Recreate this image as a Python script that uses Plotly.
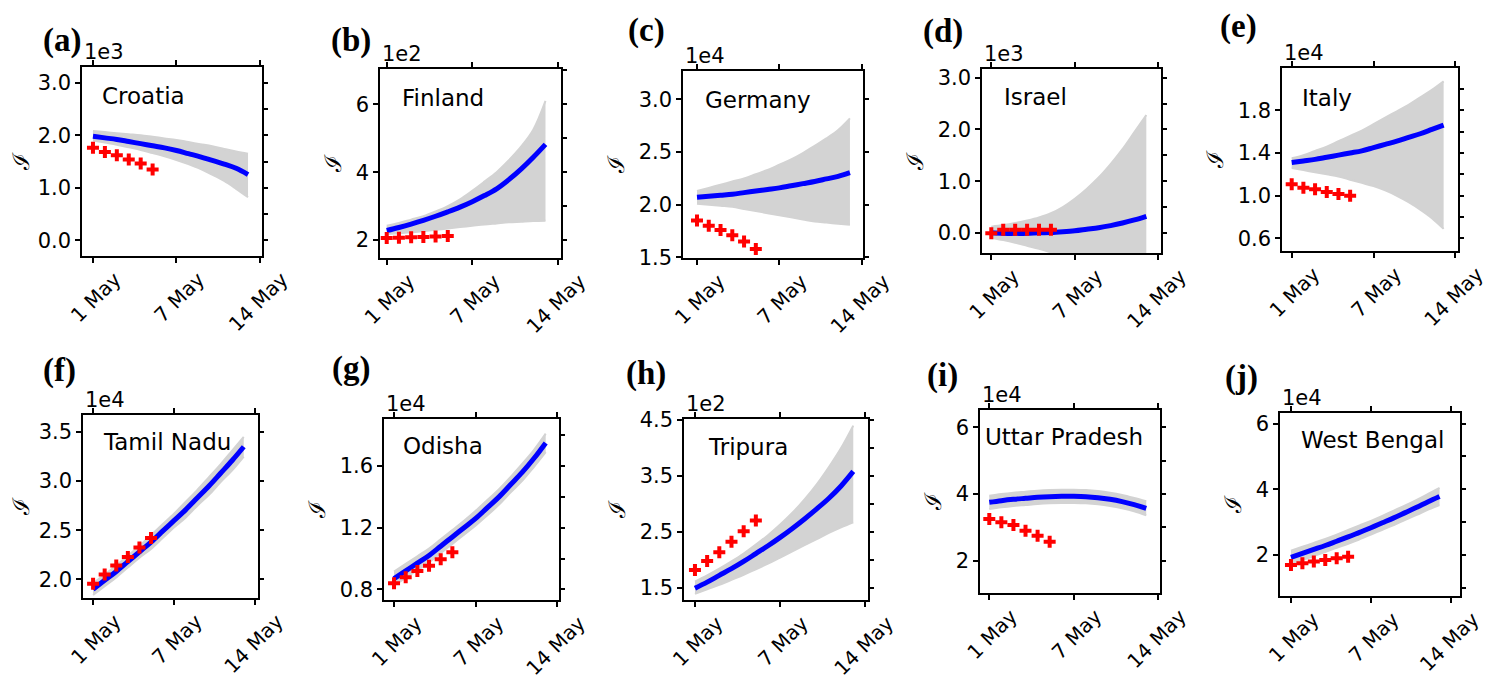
import plotly.graph_objects as go

# page body has an 8 px margin; the figure is sized to fit inside it
OFF = 8
W, H = 1505 - 2 * OFF, 690 - 2 * OFF

# ---------------- data (display units; multiply by 10**exponent) ----------------
days_fit = list(range(14))          # 1 May .. 14 May model forecast
days_obs = list(range(6))           # observed days
tick_days = [0, 7, 14]
tick_text = ["1 May", "7 May", "14 May"]

names = ["Croatia", "Finland", "Germany", "Israel", "Italy",
         "Tamil Nadu", "Odisha", "Tripura", "Uttar Pradesh", "West Bengal"]
letters = ["(a)", "(b)", "(c)", "(d)", "(e)", "(f)", "(g)", "(h)", "(i)", "(j)"]
exponents = [3, 2, 4, 3, 4, 4, 4, 2, 4, 4]

fit_croatia = [1.98, 1.95, 1.92, 1.88, 1.84, 1.80, 1.76, 1.71, 1.65, 1.59, 1.52, 1.45, 1.37, 1.25]
up_croatia = [2.08, 2.06, 2.04, 2.02, 2.00, 1.97, 1.94, 1.91, 1.87, 1.83, 1.79, 1.74, 1.69, 1.65]
lo_croatia = [1.90, 1.86, 1.82, 1.77, 1.72, 1.66, 1.60, 1.53, 1.45, 1.36, 1.25, 1.13, 0.98, 0.82]
obs_croatia = [1.76, 1.68, 1.62, 1.54, 1.46, 1.35]

fit_finland = [2.28, 2.37, 2.47, 2.58, 2.70, 2.83, 2.97, 3.13, 3.31, 3.51, 3.78, 4.09, 4.44, 4.82]
up_finland = [2.42, 2.50, 2.60, 2.70, 2.84, 3.00, 3.20, 3.45, 3.72, 4.00, 4.35, 4.75, 5.25, 6.10]
lo_finland = [2.18, 2.20, 2.23, 2.26, 2.30, 2.34, 2.38, 2.42, 2.46, 2.49, 2.52, 2.54, 2.56, 2.57]
obs_finland = [2.06, 2.07, 2.08, 2.09, 2.10, 2.12]

fit_germany = [2.07, 2.08, 2.09, 2.10, 2.115, 2.13, 2.145, 2.16, 2.18, 2.20, 2.22, 2.245, 2.27, 2.305]
up_germany = [2.13, 2.16, 2.19, 2.22, 2.25, 2.29, 2.33, 2.38, 2.43, 2.49, 2.56, 2.63, 2.71, 2.82]
lo_germany = [2.01, 2.00, 1.99, 1.98, 1.96, 1.94, 1.92, 1.90, 1.88, 1.86, 1.84, 1.83, 1.82, 1.81]
obs_germany = [1.85, 1.80, 1.76, 1.71, 1.65, 1.58]

fit_israel = [0.0, -0.01, -0.01, -0.01, 0.0, 0.005, 0.02, 0.04, 0.07, 0.10, 0.14, 0.19, 0.25, 0.32]
up_israel = [0.12, 0.15, 0.19, 0.24, 0.30, 0.38, 0.50, 0.66, 0.85, 1.07, 1.33, 1.62, 1.95, 2.28]
lo_israel = [-0.10, -0.14, -0.19, -0.25, -0.31, -0.38, -0.46, -0.55, -0.65, -0.76, -0.88, -1.0, -1.1, -1.2]
obs_israel = [-0.01, 0.06, 0.06, 0.06, 0.06, 0.06]

fit_italy = [1.31, 1.325, 1.34, 1.36, 1.38, 1.40, 1.42, 1.45, 1.48, 1.51, 1.545, 1.58, 1.62, 1.66]
up_italy = [1.35, 1.38, 1.42, 1.46, 1.51, 1.56, 1.61, 1.67, 1.73, 1.79, 1.85, 1.92, 1.99, 2.07]
lo_italy = [1.26, 1.24, 1.22, 1.20, 1.18, 1.15, 1.12, 1.09, 1.05, 1.00, 0.94, 0.87, 0.79, 0.69]
obs_italy = [1.107, 1.075, 1.06, 1.035, 1.016, 1.00]

fit_tamil = [1.90, 1.99, 2.08, 2.18, 2.28, 2.38, 2.49, 2.60, 2.71, 2.83, 2.95, 3.08, 3.21, 3.35]
up_tamil = [1.96, 2.05, 2.14, 2.24, 2.34, 2.45, 2.56, 2.67, 2.79, 2.91, 3.04, 3.17, 3.31, 3.45]
lo_tamil = [1.84, 1.93, 2.02, 2.12, 2.22, 2.31, 2.42, 2.53, 2.63, 2.75, 2.86, 2.99, 3.11, 3.25]
obs_tamil = [1.956, 2.048, 2.14, 2.228, 2.323, 2.421]

fit_odisha = [0.87, 0.92, 0.97, 1.02, 1.08, 1.14, 1.20, 1.26, 1.33, 1.40, 1.48, 1.56, 1.65, 1.75]
up_odisha = [0.915, 0.965, 1.015, 1.065, 1.125, 1.185, 1.245, 1.31, 1.38, 1.45, 1.53, 1.615, 1.705, 1.81]
lo_odisha = [0.825, 0.875, 0.925, 0.975, 1.035, 1.095, 1.155, 1.215, 1.28, 1.35, 1.43, 1.505, 1.595, 1.69]
obs_odisha = [0.839, 0.878, 0.919, 0.953, 0.996, 1.04]

fit_tripura = [1.49, 1.60, 1.72, 1.84, 1.97, 2.11, 2.25, 2.40, 2.56, 2.73, 2.91, 3.10, 3.32, 3.58]
up_tripura = [1.61, 1.72, 1.84, 1.97, 2.11, 2.27, 2.44, 2.63, 2.84, 3.08, 3.35, 3.66, 4.00, 4.40]
lo_tripura = [1.39, 1.47, 1.55, 1.64, 1.73, 1.83, 1.93, 2.04, 2.15, 2.26, 2.37, 2.48, 2.58, 2.67]
obs_tripura = [1.817, 1.977, 2.133, 2.32, 2.51, 2.70]

fit_uttar = [3.75, 3.80, 3.84, 3.87, 3.90, 3.92, 3.93, 3.93, 3.92, 3.89, 3.84, 3.77, 3.68, 3.57]
up_uttar = [3.95, 4.00, 4.04, 4.07, 4.10, 4.12, 4.13, 4.13, 4.12, 4.09, 4.04, 3.97, 3.88, 3.78]
lo_uttar = [3.55, 3.60, 3.64, 3.67, 3.70, 3.72, 3.73, 3.73, 3.72, 3.69, 3.64, 3.57, 3.48, 3.36]
obs_uttar = [3.25, 3.15, 3.07, 2.90, 2.75, 2.57]

fit_bengal = [1.93, 2.05, 2.17, 2.29, 2.42, 2.55, 2.69, 2.83, 2.98, 3.13, 3.29, 3.45, 3.62, 3.78]
up_bengal = [2.13, 2.25, 2.37, 2.49, 2.62, 2.76, 2.90, 3.04, 3.19, 3.35, 3.51, 3.68, 3.86, 4.04]
lo_bengal = [1.73, 1.85, 1.97, 2.09, 2.22, 2.34, 2.48, 2.62, 2.77, 2.91, 3.07, 3.22, 3.38, 3.52]
obs_bengal = [1.70, 1.75, 1.80, 1.85, 1.90, 1.95]

fits = [fit_croatia, fit_finland, fit_germany, fit_israel, fit_italy,
        fit_tamil, fit_odisha, fit_tripura, fit_uttar, fit_bengal]
ups = [up_croatia, up_finland, up_germany, up_israel, up_italy,
       up_tamil, up_odisha, up_tripura, up_uttar, up_bengal]
los = [lo_croatia, lo_finland, lo_germany, lo_israel, lo_italy,
       lo_tamil, lo_odisha, lo_tripura, lo_uttar, lo_bengal]
obss = [obs_croatia, obs_finland, obs_germany, obs_israel, obs_italy,
        obs_tamil, obs_odisha, obs_tripura, obs_uttar, obs_bengal]

# ---------------- layout geometry (page pixels) ----------------
frames = [  # left, right, top, bottom
    (82, 262, 67, 256), (380, 561, 69, 258), (683, 863, 71, 258),
    (982, 1161, 69, 253), (1282, 1458, 68, 251),
    (83, 258, 415, 598), (384, 559, 419, 600), (684, 868, 419, 600),
    (980, 1160, 410, 593), (1280, 1460, 413, 596),
]
xranges = [(-0.92, 14.17), (-0.55, 14.27), (-1.19, 14.11), (-0.78, 14.23), (-0.83, 14.23),
           (-0.87, 14.23), (-0.86, 14.14), (-0.90, 14.21), (-0.77, 14.14), (-0.96, 14.79)]
yranges = [(-0.30, 3.30), (1.47, 7.04), (1.494, 3.27), (-0.39, 3.17), (0.483, 2.195),
           (1.81, 3.673), (0.731, 1.905), (1.28, 4.518), (1.03, 6.52), (0.754, 6.32)]
ydticks = [(1.0, 0.0), (2, 0), (0.5, 0.0), (1.0, 0.0), (0.4, 0.2),
           (0.5, 0.0), (0.4, 0.0), (1.0, 0.5), (2, 0), (2, 0)]
ydticks_right = [0.5, 1, 0.5, 0.5, 0.2, 0.5, 0.2, 0.5, 1, 1]
yformats = [".1f", "d", ".1f", ".1f", ".1f", ".1f", ".1f", ".1f", "d", "d"]
name_pos = [(100, 96), (400, 98), (703, 100), (1002, 97), (1300, 98),
            (101, 442), (401, 446), (706, 447), (983, 437), (1299, 440)]
letter_pos = [(62, 41), (351, 41), (646, 30), (943, 31), (1238, 26),
              (59, 370), (351, 368), (646, 373), (942, 375), (1241, 377)]


def px(x):
    return (x - OFF) / W


def py(y):
    return 1 - (y - OFF) / H


# pull the rotated date labels a little closer to the axis (fallback if not allowed)
try:
    go.layout.XAxis(ticklabelstandoff=-3)
    XSTANDOFF = -3
except Exception:
    XSTANDOFF = 0

TICKFONT = dict(family="DejaVu Sans", size=21, color="black")
XTICKFONT = dict(family="DejaVu Sans", size=20, color="black")
GRAY = "rgb(211,211,211)"

fig = go.Figure()
layout = dict(
    width=W, height=H, margin=dict(l=0, r=0, t=0, b=0, pad=0, autoexpand=False),
    paper_bgcolor="white", plot_bgcolor="white", showlegend=False,
)
annotations = []

for i in range(10):
    k = i + 1
    kr = i + 11
    xa, ya, yra = f"x{k}", f"y{k}", f"y{kr}"
    L, R, T, B = frames[i]

    fig.add_trace(go.Scatter(x=days_fit, y=los[i], mode="lines",
                             line=dict(color=GRAY, width=2, shape="spline"),
                             xaxis=xa, yaxis=ya, hoverinfo="skip"))
    fig.add_trace(go.Scatter(x=days_fit, y=ups[i], mode="lines", fill="tonexty",
                             fillcolor=GRAY, line=dict(color=GRAY, width=2, shape="spline"),
                             xaxis=xa, yaxis=ya, hoverinfo="skip"))
    fig.add_trace(go.Scatter(x=days_fit, y=fits[i], mode="lines",
                             line=dict(color="rgb(0,0,255)", width=5, shape="spline"),
                             xaxis=xa, yaxis=ya))
    fig.add_trace(go.Scatter(x=days_obs, y=obss[i], mode="markers",
                             marker=dict(symbol="cross", size=10, color="rgb(255,0,0)",
                                         line=dict(width=0)),
                             xaxis=xa, yaxis=ya, cliponaxis=False))
    # invisible trace to register the right-hand tick axis
    fig.add_trace(go.Scatter(x=[None], y=[None], mode="markers", xaxis=xa, yaxis=yra,
                             hoverinfo="skip"))

    xdom = [px(L), px(R)]
    ydom = [py(B), py(T)]
    key = "" if k == 1 else str(k)
    layout["xaxis" + key] = dict(
        domain=xdom, anchor=ya, range=list(xranges[i]), automargin=False,
        tickmode="array", tickvals=tick_days, ticktext=tick_text, tickangle=-45,
        ticks="outside", ticklen=5, tickwidth=1.5, tickcolor="black",
        showline=True, linecolor="black", linewidth=1.5, mirror="ticks",
        showgrid=False, zeroline=False, tickfont=XTICKFONT,
        ticklabelshift=22, ticklabelstandoff=XSTANDOFF,
    )
    dt, t0 = ydticks[i]
    layout["yaxis" + key] = dict(
        domain=ydom, anchor=xa, range=list(yranges[i]), automargin=False,
        tickmode="linear", dtick=dt, tick0=t0, tickformat=yformats[i],
        ticks="outside", ticklen=5, tickwidth=1.5, tickcolor="black",
        showline=True, linecolor="black", linewidth=1.5, mirror=True,
        showgrid=False, zeroline=False, tickfont=TICKFONT,
        title=dict(text="ℐ", font=dict(family="DejaVu Serif", size=23, color="black"),
                   standoff=8),
    )
    layout["yaxis" + str(kr)] = dict(
        domain=ydom, anchor=xa, overlaying=ya, side="right", range=list(yranges[i]),
        automargin=False,
        tickmode="linear", dtick=ydticks_right[i], tick0=0,
        ticks="outside", ticklen=5, tickwidth=1.5, tickcolor="black",
        showticklabels=False, showline=False, showgrid=False, zeroline=False,
    )

    # country name
    nx, ny = name_pos[i]
    annotations.append(dict(text=names[i], xref="paper", yref="paper",
                            x=px(nx), y=py(ny), xanchor="left", yanchor="middle",
                            showarrow=False,
                            font=dict(family="DejaVu Sans", size=23, color="black")))
    # offset text
    annotations.append(dict(text=f"1e{exponents[i]}", xref="paper", yref="paper",
                            x=px(L), y=py(T - 1), xanchor="left", yanchor="bottom",
                            showarrow=False,
                            font=dict(family="DejaVu Sans", size=21, color="black")))
    # panel letter
    lx, ly = letter_pos[i]
    annotations.append(dict(text=f"<b>{letters[i]}</b>", xref="paper", yref="paper",
                            x=px(lx), y=py(ly), xanchor="center", yanchor="middle",
                            showarrow=False,
                            font=dict(family="Liberation Serif", size=33, color="black")))

layout["annotations"] = annotations
fig.update_layout(**layout)
fig.write_html("out.html")
